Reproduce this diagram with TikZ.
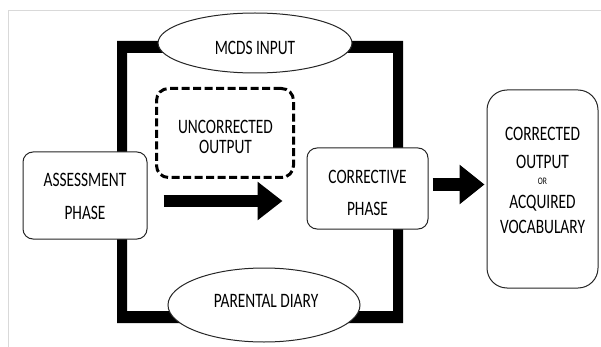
\documentclass[tikz,border=0pt]{standalone}
\usepackage{fontspec}
\setmainfont{Carlito}[FakeStretch=0.75]
\usetikzlibrary{shapes.geometric,arrows.meta,calc}
\begin{document}
\begin{tikzpicture}[x=1pt,y=-1pt,
  box/.style={draw=black!85, line width=1pt, rounded corners=10pt, fill=white, inner sep=0pt},
  dbox/.style={draw=black, line width=3pt, dash pattern=on 8pt off 3.5pt, rounded corners=12pt, fill=white, inner sep=0pt},
  oval/.style={draw=black!85, line width=1pt, ellipse, fill=white, inner sep=0pt},
  txt/.style={font=\fontsize{20.5}{24}\selectfont, align=center, text=black, inner sep=0pt},
  bigarrow/.style={line width=12pt, -{Triangle[length=25pt,width=37pt]}},
  medarrow/.style={line width=13pt, -{Triangle[length=25pt,width=38pt]}},
]
\useasboundingbox (0,0) rectangle (601,347);
\draw[black!15, line width=1pt] (8,347) -- (8,11) -- (601,11);
% thick feedback frame
\fill[black, even odd rule] (117,41) rectangle (403,323) (127,53) rectangle (393,311);
% boxes
\node[box, minimum width=124pt, minimum height=87pt] (assess) at (85,195.5) {};
\node[txt] (assesstxt) at (85,196.5) {ASSESSMENT\\[9pt]PHASE};
\node[dbox, minimum width=137pt, minimum height=89pt] (uncorr) at (225,133) {};
\node[txt] (uncorrtxt) at (225.5,137) {UNCORRECTED\\[-3.5pt]OUTPUT};
\node[box, minimum width=121pt, minimum height=81pt] (corr) at (367.5,188.5) {};
\node[txt] (corrtxt) at (367.5,192.7) {CORRECTIVE\\[8pt]PHASE};
\node[box, rounded corners=20pt, minimum width=111pt, minimum height=198pt] (result) at (542.5,189) {};
\node[txt] (resulttxt) at (542.5,180.5) {CORRECTED\\[4pt]OUTPUT\\[-8pt]{\fontsize{10}{10}\selectfont OR}\\[0.5pt]ACQUIRED\\[1pt]VOCABULARY};
% ellipses
\node[oval, minimum width=194pt, minimum height=60pt] (mcds) at (255,43) {};
\node[txt] (mcdstxt) at (255,47.5) {MCDS INPUT};
\node[oval, minimum width=192pt, minimum height=74pt] (diary) at (264,305) {};
\node[txt] (diarytxt) at (266,300.5) {PARENTAL DIARY};
% arrows
\draw[bigarrow, shorten <=16pt, shorten >=24pt] ($(assess.east)+(0,5.5)$) -- ($(assess.east -| corr.west)+(0,5.5)$);
\draw[medarrow, shorten <=4pt, shorten >=2pt] ($(corr.east)+(0,-4)$) -- ($(corr.east -| result.west)+(0,-4)$);
\end{tikzpicture}
\end{document}
